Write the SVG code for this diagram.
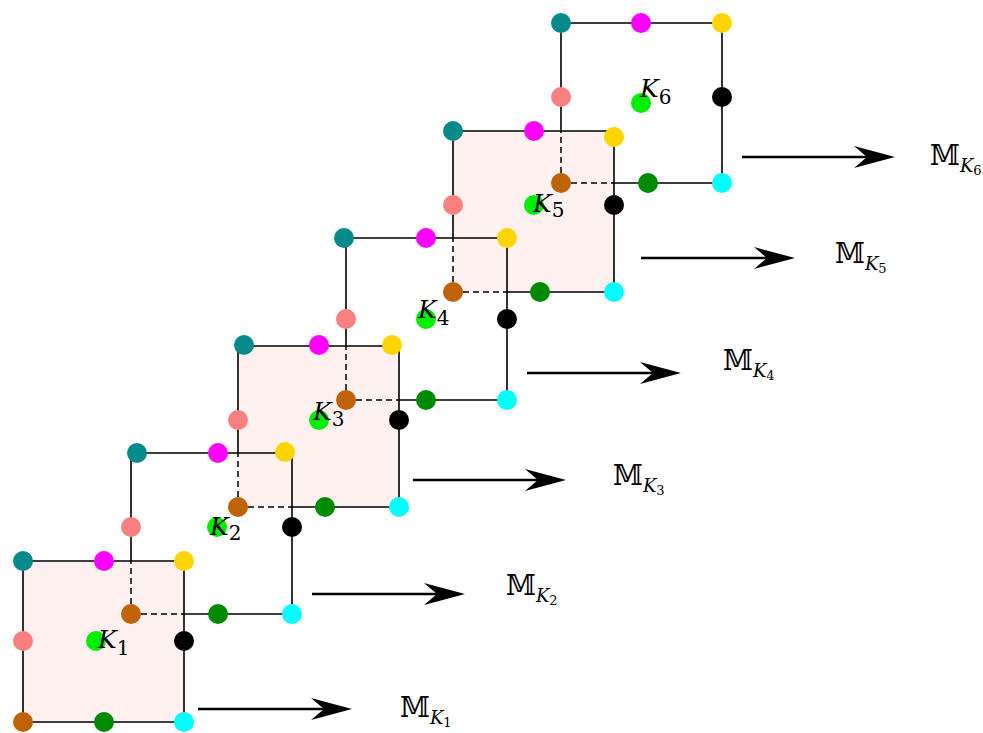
<svg xmlns="http://www.w3.org/2000/svg" width="983" height="733" viewBox="0 0 983 733">
<style>
.fill{fill:#fef1f0;stroke:none}
.e{stroke:#000;stroke-width:1.6;fill:none}
.d{stroke:#000;stroke-width:1.5;fill:none;stroke-dasharray:6,4}
.arr{stroke:#000;stroke-width:2.6;fill:none;marker-end:url(#ah)}
.k{font-family:"DejaVu Serif","Liberation Serif",serif;font-style:italic;font-size:25px;fill:#000}
.ks{font-family:"DejaVu Serif","Liberation Serif",serif;font-style:normal;font-size:20px}
.m{font-family:"DejaVu Serif","DejaVu Sans",serif;font-size:27px;fill:#000}
.mk{font-family:"DejaVu Serif","Liberation Serif",serif;font-style:italic;font-size:18px}
.mn{font-family:"DejaVu Serif","Liberation Serif",serif;font-style:normal;font-size:13px}
.teal{fill:#078a8a}.mag{fill:#ff00ff}.gold{fill:#ffd400}.pink{fill:#fa8080}.lime{fill:#00ee00}.blk{fill:#000}.brn{fill:#c06206}.grn{fill:#008a00}.cyn{fill:#00ffff}
</style>
<defs>
<marker id="ah" markerUnits="userSpaceOnUse" viewBox="0 0 41 22" refX="31" refY="11" markerWidth="41" markerHeight="22" orient="auto">
<path d="M41,11 L0,0 L13,11 L0,22 Z" fill="#000"/>
</marker>
</defs>
<g id="fills">
<rect class="fill" x="23" y="561" width="161" height="161"/>
<rect class="fill" x="238" y="346" width="161" height="161"/>
<rect class="fill" x="453" y="131" width="161" height="161"/>
</g>
<g id="connectors">
<path class="arr" d="M198,709 H342"/>
<path class="arr" d="M312,594 H455"/>
<path class="arr" d="M413,480 H556"/>
<path class="arr" d="M527,373 H671"/>
<path class="arr" d="M641,258 H785"/>
<path class="arr" d="M742,157 H885"/>
</g>
<g id="K1">
<path class="e" d="M23,561 H184 V722 H23 Z"/>
<circle class="teal" cx="23" cy="561" r="10"/><circle class="mag" cx="104" cy="561" r="10"/><circle class="gold" cx="184" cy="561" r="10"/>
<circle class="pink" cx="23" cy="641" r="10"/><circle class="lime" cx="96" cy="641" r="10"/><circle class="blk" cx="184" cy="641" r="10"/>
<circle class="brn" cx="23" cy="722" r="10"/><circle class="grn" cx="104" cy="722" r="10"/><circle class="cyn" cx="184" cy="722" r="10"/>
<text class="k" x="98" y="648">K<tspan class="ks" dy="7">1</tspan></text>
</g>
<g id="K2">
<path class="e" d="M131,561 V453 H292 V614 H184"/>
<path class="d" d="M131,614 V561 M131,614 H184"/>
<circle class="teal" cx="137" cy="453" r="10"/><circle class="mag" cx="218" cy="453" r="10"/><circle class="gold" cx="285" cy="452" r="10"/>
<circle class="pink" cx="131" cy="527" r="10"/><circle class="lime" cx="217" cy="527" r="10"/><circle class="blk" cx="292" cy="527" r="10"/>
<circle class="brn" cx="131" cy="614" r="10"/><circle class="grn" cx="218" cy="614" r="10"/><circle class="cyn" cx="292" cy="614" r="10"/>
<text class="k" x="210" y="535">K<tspan class="ks" dy="5">2</tspan></text>
</g>
<g id="K3">
<path class="e" d="M238,453 V346 H399 V507 H292"/>
<path class="d" d="M238,507 V453 M238,507 H292"/>
<circle class="teal" cx="244" cy="345" r="10"/><circle class="mag" cx="319" cy="345" r="10"/><circle class="gold" cx="392" cy="345" r="10"/>
<circle class="pink" cx="238" cy="420" r="10"/><circle class="lime" cx="319" cy="420" r="10"/><circle class="blk" cx="399" cy="420" r="10"/>
<circle class="brn" cx="238" cy="507" r="10"/><circle class="grn" cx="325" cy="507" r="10"/><circle class="cyn" cx="399" cy="507" r="10"/>
<text class="k" x="313" y="420">K<tspan class="ks" dy="6">3</tspan></text>
</g>
<g id="K4">
<path class="e" d="M346,346 V238 H507 V400 H399"/>
<path class="d" d="M346,400 V346 M346,400 H399"/>
<circle class="teal" cx="344" cy="238" r="10"/><circle class="mag" cx="426" cy="238" r="10"/><circle class="gold" cx="507" cy="238" r="10"/>
<circle class="pink" cx="346" cy="319" r="10"/><circle class="lime" cx="426" cy="319" r="10"/><circle class="blk" cx="507" cy="319" r="10"/>
<circle class="brn" cx="346" cy="400" r="10"/><circle class="grn" cx="426" cy="400" r="10"/><circle class="cyn" cx="507" cy="400" r="10"/>
<text class="k" x="418" y="318">K<tspan class="ks" dy="7">4</tspan></text>
</g>
<g id="K5">
<path class="e" d="M453,238 V131 H614 V292 H507"/>
<path class="d" d="M453,292 V238 M453,292 H507"/>
<circle class="teal" cx="453" cy="131" r="10"/><circle class="mag" cx="534" cy="131" r="10"/><circle class="gold" cx="614" cy="137" r="10"/>
<circle class="pink" cx="453" cy="205" r="10"/><circle class="lime" cx="534" cy="205" r="10"/><circle class="blk" cx="614" cy="205" r="10"/>
<circle class="brn" cx="453" cy="292" r="10"/><circle class="grn" cx="540" cy="292" r="10"/><circle class="cyn" cx="614" cy="292" r="10"/>
<text class="k" x="533" y="212">K<tspan class="ks" dy="5">5</tspan></text>
</g>
<g id="K6">
<path class="e" d="M561,131 V23 H722 V183 H614"/>
<path class="d" d="M561,183 V131 M561,183 H614"/>
<circle class="teal" cx="561" cy="23" r="10"/><circle class="mag" cx="641" cy="23" r="10"/><circle class="gold" cx="722" cy="23" r="10"/>
<circle class="pink" cx="561" cy="97" r="10"/><circle class="lime" cx="641" cy="103" r="10"/><circle class="blk" cx="722" cy="97" r="10"/>
<circle class="brn" cx="561" cy="183" r="10"/><circle class="grn" cx="648" cy="183" r="10"/><circle class="cyn" cx="722" cy="183" r="10"/>
<text class="k" x="640" y="97">K<tspan class="ks" dy="7">6</tspan></text>
</g>
<g id="labels">
<text class="m" x="400" y="717">𝕄<tspan class="mk" dy="7">K</tspan><tspan class="mn" dy="3">1</tspan></text>
<text class="m" x="506" y="595">𝕄<tspan class="mk" dy="7">K</tspan><tspan class="mn" dy="3">2</tspan></text>
<text class="m" x="613" y="485">𝕄<tspan class="mk" dy="7">K</tspan><tspan class="mn" dy="3">3</tspan></text>
<text class="m" x="723" y="370">𝕄<tspan class="mk" dy="7">K</tspan><tspan class="mn" dy="3">4</tspan></text>
<text class="m" x="835" y="263">𝕄<tspan class="mk" dy="7">K</tspan><tspan class="mn" dy="3">5</tspan></text>
<text class="m" x="930" y="165">𝕄<tspan class="mk" dy="7">K</tspan><tspan class="mn" dy="3">6</tspan></text>
</g>
</svg>
